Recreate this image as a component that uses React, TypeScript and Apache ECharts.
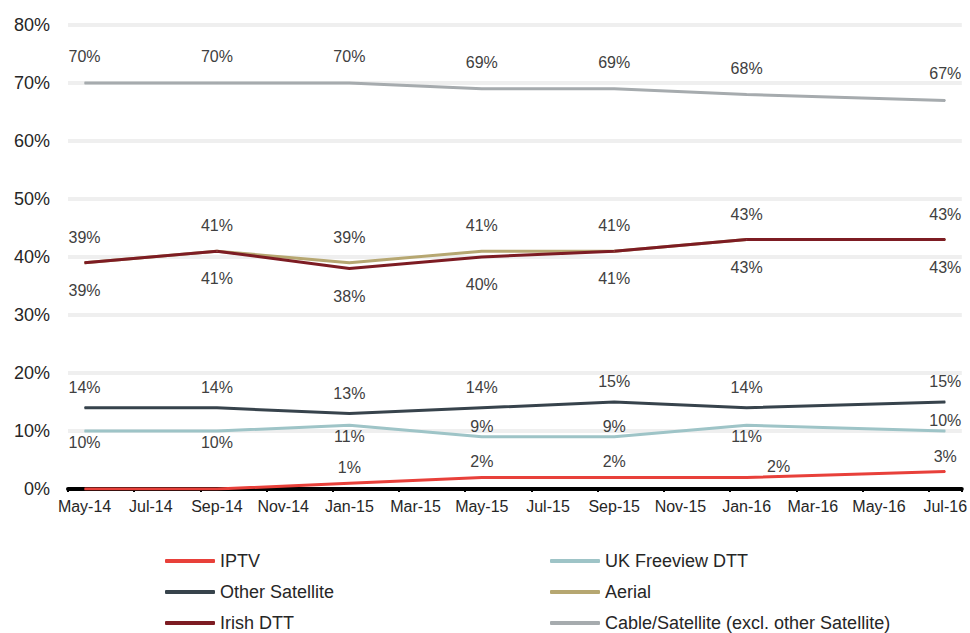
import React, { useEffect, useRef } from "react";
import * as echarts from "echarts";

const months = [
  "May-14", "Jun-14", "Jul-14", "Aug-14", "Sep-14", "Oct-14", "Nov-14", "Dec-14",
  "Jan-15", "Feb-15", "Mar-15", "Apr-15", "May-15", "Jun-15", "Jul-15", "Aug-15",
  "Sep-15", "Oct-15", "Nov-15", "Dec-15", "Jan-16", "Feb-16", "Mar-16", "Apr-16",
  "May-16", "Jun-16", "Jul-16",
];
const surveyDates = ["May-14", "Sep-14", "Jan-15", "May-15", "Sep-15", "Jan-16", "Jul-16"];

const iptv = [0, 0, 1, 2, 2, 2, 3];
const ukFreeview = [10, 10, 11, 9, 9, 11, 10];
const otherSatellite = [14, 14, 13, 14, 15, 14, 15];
const aerial = [39, 41, 39, 41, 41, 43, 43];
const irishDtt = [39, 41, 38, 40, 41, 43, 43];
const cableSatellite = [70, 70, 70, 69, 69, 68, 67];

const ukFreeviewLabelPos = ["bottom", "bottom", "bottom", "top", "top", "bottom", "top"];
const yTicks = [0, 10, 20, 30, 40, 50, 60, 70, 80];

const FONT = "'Liberation Sans', Arial, sans-serif";
const LABEL_COLOR = "#404040";

function makeSeries(
  name: string,
  values: number[],
  color: string,
  position: string,
  distance: number,
  perPoint?: (i: number) => any
) {
  return {
    name,
    type: "line",
    symbol: "circle",
    symbolSize: 1,
    showSymbol: true,
    showAllSymbol: true,
    itemStyle: { color },
    lineStyle: { color, width: 3 },
    emphasis: { disabled: true },
    label: {
      show: true,
      position,
      distance,
      color: LABEL_COLOR,
      fontSize: 16,
      fontFamily: FONT,
      formatter: (p: any) => p.value[1] + "%",
    },
    data: values.map((v, i) => {
      const item: any = { value: [surveyDates[i], v] };
      if (perPoint) {
        const extra = perPoint(i);
        if (extra) item.label = extra;
      }
      return item;
    }),
  };
}

export default function App() {
  const ref = useRef<HTMLDivElement>(null);
  useEffect(() => {
    if (!ref.current) return;
    const chart = echarts.init(ref.current, null, { renderer: "svg" });
    const legendCommon = {
      orient: "vertical",
      top: 552,
      height: 100,
      width: 400,
      padding: 0,
      itemWidth: 50,
      itemHeight: 4,
      itemGap: 13,
      icon: "roundRect",
      textStyle: { fontSize: 18, color: "#262626", fontFamily: FONT },
      selectedMode: false,
    };
    chart.setOption({
      animation: false,
      backgroundColor: "#ffffff",
      grid: { left: 68, right: 6, top: 25, bottom: 144, containLabel: false },
      xAxis: {
        type: "category",
        data: months,
        boundaryGap: true,
        axisLine: { show: true, lineStyle: { color: "#000000", width: 4 } },
        axisTick: { show: true, interval: 1, length: 3, lineStyle: { color: "#000000", width: 2 } },
        axisLabel: {
          interval: 1,
          fontSize: 16,
          color: "#262626",
          fontFamily: FONT,
          margin: 9,
        },
        splitLine: { show: false },
      },
      yAxis: {
        type: "value",
        min: yTicks[0],
        max: yTicks[yTicks.length - 1],
        interval: 10,
        axisLine: { show: false },
        axisTick: { show: false },
        axisLabel: {
          formatter: "{value}%",
          fontSize: 18,
          color: "#262626",
          fontFamily: FONT,
          margin: 18,
        },
        splitLine: { show: true, lineStyle: { color: "#efefef", width: 4 } },
      },
      legend: [
        { ...legendCommon, left: 165, data: ["IPTV", "Other Satellite", "Irish DTT"] },
        {
          ...legendCommon,
          left: 550,
          data: ["UK Freeview DTT", "Aerial", "Cable/Satellite (excl. other Satellite)"],
        },
      ],
      series: [
        makeSeries("IPTV", iptv, "#e8403a", "top", 7, (i) => {
          if (iptv[i] === 0) return { show: false };
          if (i === 5) return { offset: [32, 5] };
          return null;
        }),
        makeSeries("UK Freeview DTT", ukFreeview, "#9ec4c7", "bottom", 3, (i) =>
          ukFreeviewLabelPos[i] === "top" ? { position: "top", distance: 2 } : null
        ),
        makeSeries("Other Satellite", otherSatellite, "#37434c", "top", 12),
        makeSeries("Aerial", aerial, "#b6a771", "top", 17),
        makeSeries("Irish DTT", irishDtt, "#7d1c23", "bottom", 19),
        makeSeries("Cable/Satellite (excl. other Satellite)", cableSatellite, "#a6abae", "top", 18),
      ],
    });
    return () => chart.dispose();
  }, []);
  return (
    <div
      ref={ref}
      style={{ position: "absolute", left: 0, top: 0, width: 970, height: 633 }}
    />
  );
}
